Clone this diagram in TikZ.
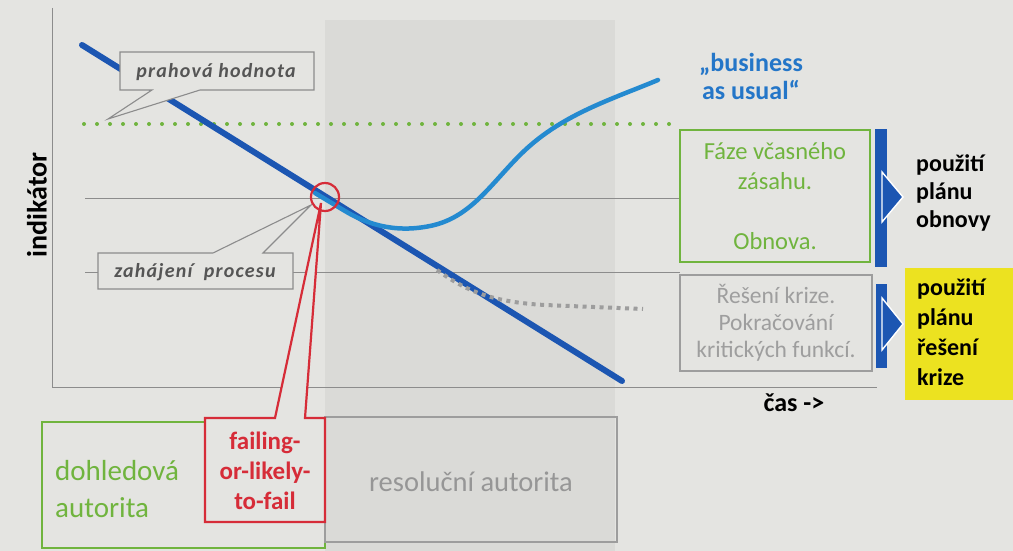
\documentclass[tikz,border=0pt]{standalone}
\usepackage{fontspec}
\setmainfont{Carlito}
\definecolor{bgc}{RGB}{228,228,225}
\definecolor{shadec}{RGB}{218,218,215}
\definecolor{dblue}{RGB}{28,86,178}
\definecolor{lblue}{RGB}{36,138,208}
\definecolor{grn}{RGB}{112,180,62}
\definecolor{redc}{RGB}{214,44,56}
\definecolor{linec}{RGB}{140,140,140}
\definecolor{calltext}{RGB}{85,85,85}
\definecolor{lightt}{RGB}{158,158,158}
\definecolor{yel}{RGB}{236,226,32}
\definecolor{bautext}{RGB}{36,118,200}
\newcommand{\fsz}[2]{\fontsize{#1}{#2}\selectfont}
\begin{document}
\begin{tikzpicture}[x=1pt,y=-1pt,
  axisline/.style={draw=linec,line width=0.9pt},
  levelline/.style={draw=linec,line width=1pt},
  callout/.style={draw=linec,line width=1.1pt,fill=bgc,line join=miter},
  calltxt/.style={text=calltext,font=\fsz{20}{24}\bfseries\itshape\addfontfeatures{LetterSpace=6},inner sep=0pt},
  boxtxt/.style={align=center,inner sep=0pt},
  plantxt/.style={align=left,inner sep=0pt,font=\bfseries,anchor=west},
  bluebar/.style={fill=dblue},
  bluetip/.style={fill=dblue,draw=white,line width=1.4pt,line join=miter}]

% canvas
\useasboundingbox (0,0) rectangle (1013,551);
\fill[bgc] (0,0) rectangle (1013,551);
\fill[shadec] (325,20) rectangle (615,551);

% axes and level lines
\draw[axisline] (52,8) -- (52,387) -- (877,387);
\draw[levelline] (85,198) -- (680,198);
\draw[levelline] (85,272) -- (680,272);
\draw[grn,line width=4pt,line cap=round,dash pattern=on 0pt off 13pt] (84,124) -- (670,124);

% indicator curves
\draw[dblue,line width=6pt,line cap=round] (82,45) -- (622,381);
\draw[linec!85,line width=4pt,dash pattern=on 4pt off 4.5pt]
  (437,270) .. controls (465,290) and (490,302) .. (545,305) -- (643,309);
\draw[lblue,line width=4.5pt,line cap=round]
  (315,193) -- (345,211) .. controls (380,232) and (410,230) .. (430,226)
  .. controls (470,218) and (490,185) .. (520,155)
  .. controls (560,115) and (610,100) .. (658,80);

% threshold callout
\draw[callout] (120,52) -- (314,52) -- (314,90) -- (200,90) -- (108,119) -- (152,90) -- (120,90) -- cycle;
\node[calltxt] (prah) at (216,72) {prahová hodnota};

% process start callout
\draw[callout] (98,253) -- (213,253) -- (311,205) -- (263,253) -- (293,253) -- (293,289) -- (98,289) -- cycle;
\node[calltxt] (zah) at (195,272) {zahájení\ \ procesu};

% trigger point
\draw[redc,line width=2.2pt] (325,197) circle (14);

% authorities
\draw[grn,line width=1.8pt] (42,422) rectangle (325,548);
\node[text=grn,align=left,anchor=west,inner sep=0pt,font=\fsz{29}{37}] (dohl) at (55,489) {dohledová\\autorita};
\draw[linec!85,line width=1.6pt] (325,417) rectangle (617,542);
\node[text=lightt!95!black,inner sep=0pt,font=\fsz{28.5}{32}] (resol) at (471,482) {resoluční autorita};

% failing-or-likely-to-fail callout
\draw[redc,line width=2.2pt,fill=bgc,line join=miter]
  (205,418) -- (275,418) -- (321,203) -- (305,418) -- (325,418) -- (325,522) -- (205,522) -- cycle;
\node[text=redc,boxtxt,font=\fsz{25}{30}\bfseries] (fail) at (265,471) {failing-\\or-likely-\\to-fail};

% phases
\node[draw=grn,line width=1.8pt,minimum width=190pt,minimum height=132pt,text=grn,boxtxt,font=\fsz{24.5}{30}] (faze) at (775,196) {Fáze včasného\\zásahu.\\[30pt]Obnova.};
\node[draw=linec!85,line width=1.6pt,minimum width=192pt,minimum height=96pt,text=lightt,boxtxt,font=\fsz{23.5}{27}] (resen) at (776,323) {Řešení krize.\\Pokračování\\kritických funkcí.};

% plan markers
\fill[bluebar] (875,129) rectangle (887,267);
\filldraw[bluetip] (882,172) -- (903,197) -- (882,222) -- cycle;
\fill[bluebar] (876,284) rectangle (887,368);
\filldraw[bluetip] (882,298) -- (903,324) -- (882,350) -- cycle;

\node[plantxt,font=\fsz{24}{28}\bfseries] (plan1) at (916,193) {použití\\plánu\\obnovy};
\node[fill=yel,minimum width=108pt,minimum height=132pt,anchor=north west,inner sep=0pt] (ybox) at (905,268) {};
\node[plantxt,font=\fsz{24}{30}\bfseries] (plan2) at (917,332) {použití\\plánu\\řešení\\krize};

% labels
\node[font=\fsz{26}{30}\bfseries,inner sep=0pt] (cas) at (794,403) {čas ->};
\node[text=bautext,boxtxt,font=\fsz{26}{28}\bfseries] (bau) at (751,76) {„business\\as usual“};
\node[rotate=90,font=\fsz{28}{30}\bfseries,inner sep=0pt] (ind) at (37,205) {indikátor};
\end{tikzpicture}
\end{document}
